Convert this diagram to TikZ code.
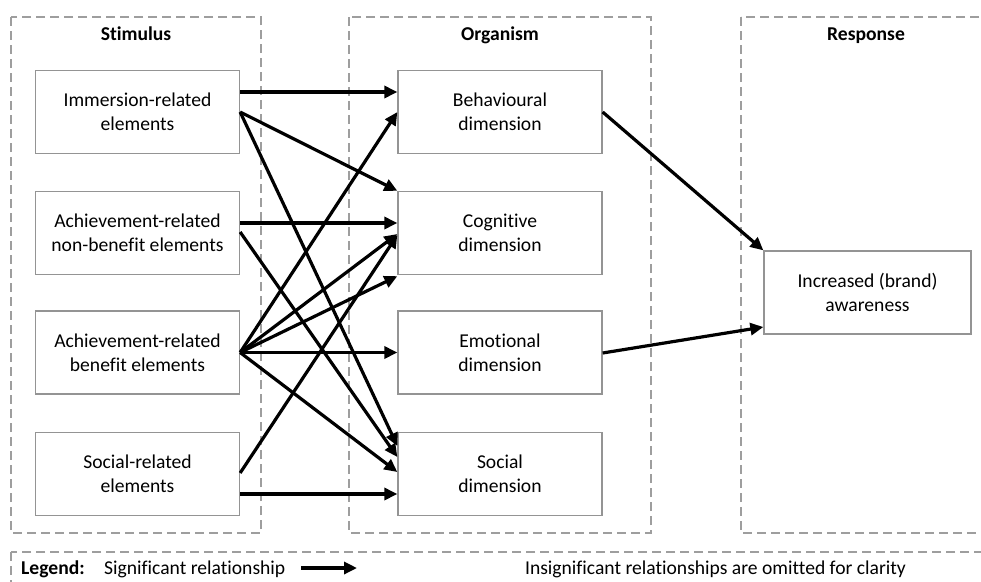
\documentclass[tikz,border=0pt]{standalone}
\usepackage{fontspec}
\setmainfont[Ligatures=NoCommon]{Carlito}
\usetikzlibrary{arrows.meta,calc}

\tikzset{
  txt/.style={font=\fontsize{19.6}{24}\selectfont, align=center, inner sep=0pt},
  head/.style={txt, font=\fontsize{19.6}{24}\selectfont\bfseries},
  group/.style={draw=black!38, line width=1.3pt, dash pattern=on 9pt off 5pt},
  box/.style={draw=black!42, line width=1.3pt, txt, minimum width=204pt, minimum height=83pt},
  arr/.style={line width=3.2pt, -{Triangle[length=13pt,width=12pt]}},
}

\begin{document}
\begin{tikzpicture}[x=1pt,y=-1pt]
  \clip (0,0) rectangle (981,581);
  \fill[white] (0,0) rectangle (981,581);

  % dashed column frames and legend frame
  \draw[group] (11,17) rectangle (261,533);
  \draw[group] (349,17) rectangle (651,533);
  \draw[group] (741,17) rectangle (995,533);
  \draw[group] (11,552) rectangle (995,600);

  % column headings
  \node[head, anchor=base] (hS) at (136,40) {Stimulus};
  \node[head, anchor=base] (hO) at (500,40) {Organism};
  \node[head, anchor=base] (hR) at (866,40) {Response};

  % stimulus elements
  \node[box] (S1) at (137.5,112)   {Immersion-related\\elements};
  \node[box] (S2) at (137.5,233)   {Achievement-related\\non-benefit elements};
  \node[box] (S3) at (137.5,352.5) {Achievement-related\\benefit elements};
  \node[box] (S4) at (137.5,474)   {Social-related\\elements};

  % organism dimensions
  \node[box] (O1) at (500,112)   {Behavioural\\dimension};
  \node[box] (O2) at (500,233)   {Cognitive\\dimension};
  \node[box] (O3) at (500,352.5) {Emotional\\dimension};
  \node[box] (O4) at (500,474)   {Social\\dimension};

  % response
  \node[box, minimum width=207pt] (R) at (867.5,292.5) {Increased (brand)\\awareness};

  % significant relationships
  \draw[arr] ([yshift=20pt]S1.east) -- ([yshift=20pt]O1.west);
  \draw[arr] (S1.east) -- (O2.north west);
  \draw[arr] (S1.east) -- ([yshift=28pt]O4.west);

  \draw[arr] ([yshift=10pt]S2.east) -- ([yshift=10pt]O2.west);
  \draw[arr] ([yshift=1pt]S2.east) -- ([yshift=17pt]O4.west);

  \draw[arr] (S3.east) -- (O1.west);
  \draw[arr] (S3.east) -- ([yshift=-1pt]O2.west);
  \draw[arr] (S3.east) -- ([yshift=-1pt]O2.south west);
  \draw[arr] (S3.east) -- (O3.west);
  \draw[arr] (S3.east) -- ([yshift=2pt]O4.west);

  \draw[arr] ([yshift=1pt]S4.east) -- ([yshift=-2pt]O2.west);
  \draw[arr] ([yshift=-20pt]S4.east) -- ([yshift=-20pt]O4.west);

  \draw[arr] (O1.east) -- (R.north west);
  \draw[arr] ([yshift=-0.5pt]O3.east) -- ([yshift=-34.5pt]R.west);

  % legend
  \node[head, anchor=base west] (lg) at (21,574) {Legend:};
  \node[txt, anchor=base west] (sig) at (104,574) {Significant relationship};
  \coordinate (la) at (301,568);
  \coordinate (lb) at (357,568);
  \draw[arr] (la) -- (lb);
  \node[txt, anchor=base] (ins) at (715.5,574) {Insignificant relationships are omitted for clarity};
\end{tikzpicture}
\end{document}
